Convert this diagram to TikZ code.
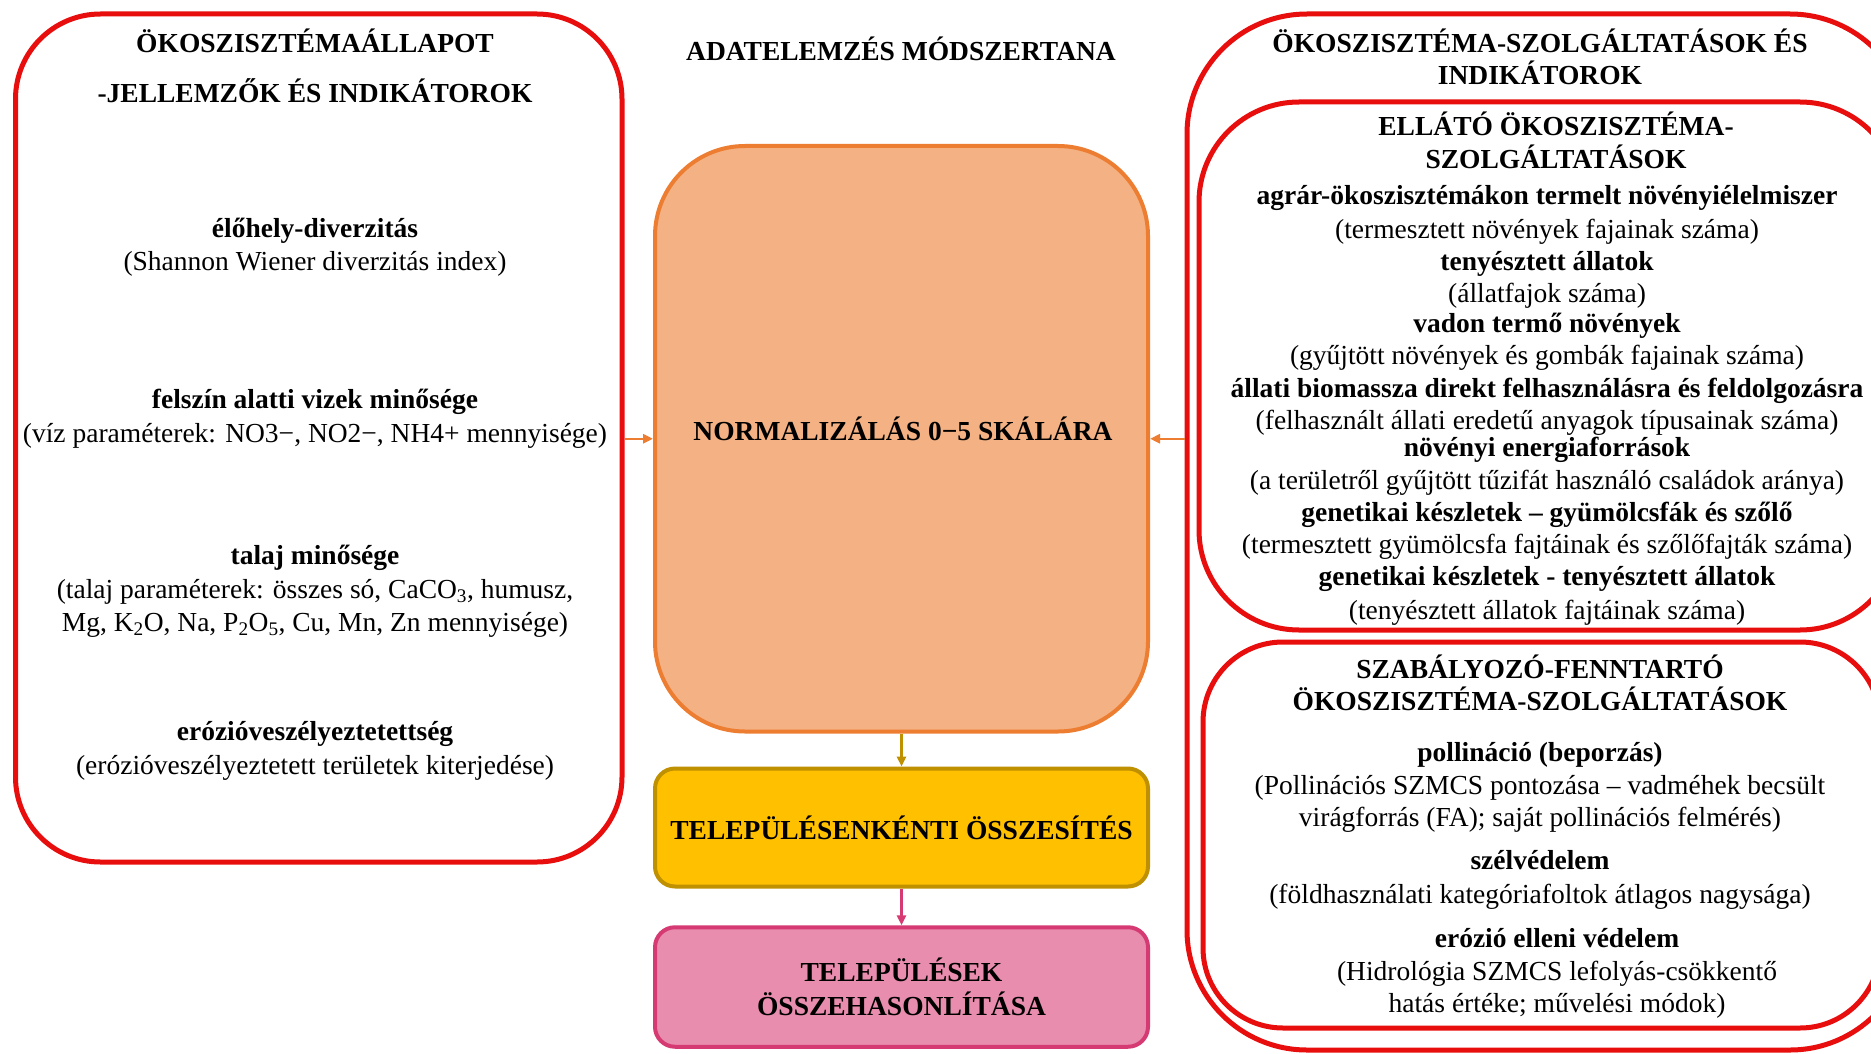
\documentclass[tikz,border=0pt]{standalone}
\usepackage{fontspec}
\setmainfont{Liberation Serif}
\usetikzlibrary{arrows.meta}
\definecolor{boxred}{RGB}{232,14,14}
\definecolor{orfill}{HTML}{F4B183}
\definecolor{ordraw}{HTML}{ED7D31}
\definecolor{yefill}{HTML}{FFC000}
\definecolor{yedraw}{HTML}{BF9000}
\definecolor{pifill}{HTML}{E88DAD}
\definecolor{pidraw}{HTML}{D63A72}
\begin{document}
\begin{tikzpicture}[x=1pt,y=1pt,
  redbox/.style={draw=boxred, line width=5pt, rounded corners=#1, inner sep=0pt},
  t/.style={font=\fontsize{27.5}{33}\selectfont, anchor=base, inner sep=0pt},
  tb/.style={t, font=\fontsize{27.5}{33}\selectfont\bfseries},
  arr/.style={-{Triangle[length=10pt,width=9pt]}, line width=2.5pt}]
\useasboundingbox (0,0) rectangle (1871,-1054);
\fill[white] (0,0) rectangle (1871,-1054);
\clip (0,0) rectangle (1871,-1054);

% left box
\node[redbox=85, minimum width=606.5pt, minimum height=848pt] (left) at (318.75,-438) {};
\node[tb] (l1) at (315,-53) {ÖKOSZISZTÉMAÁLLAPOT};
\node[tb] (l2) at (315,-103) {-JELLEMZŐK ÉS INDIKÁTOROK};
\node[tb] (l3) at (315,-237) {élőhely-diverzitás};
\node[t] (l4) at (315,-270) {(Shannon Wiener diverzitás index)};
\node[tb] (l5) at (315,-408) {felszín alatti vizek minősége};
\node[t] (l6) at (315,-442) {(víz paraméterek: NO3−, NO2−, NH4+ mennyisége)};
\node[tb] (l7) at (315,-564) {talaj minősége};
\node[t] (l8) at (315,-598) {(talaj paraméterek: összes só, CaCO\textsubscript{3}, humusz,};
\node[t] (l9) at (315,-631) {Mg, K\textsubscript{2}O, Na, P\textsubscript{2}O\textsubscript{5}, Cu, Mn, Zn mennyisége)};
\node[tb] (l10) at (315,-740) {erózióveszélyeztetettség};
\node[t] (l11) at (315,-774) {(erózióveszélyeztetett területek kiterjedése)};

% middle
\node[tb] (mtitle) at (901,-61) {ADATELEMZÉS MÓDSZERTANA};
\node[draw=ordraw, fill=orfill, line width=4pt, rounded corners=90pt, minimum width=493pt, minimum height=585.5pt, inner sep=0pt] (norm) at (901.5,-438.75) {};
\node[tb] (normt) at (903,-440) {NORMALIZÁLÁS 0−5 SKÁLÁRA};
\node[draw=yedraw, fill=yefill, line width=4pt, rounded corners=20pt, minimum width=493pt, minimum height=118pt, inner sep=0pt, font=\fontsize{27.5}{33}\selectfont\bfseries] (sum) at (901.5,-827.5) {TELEPÜLÉSENKÉNTI ÖSSZESÍTÉS};
\node[draw=pidraw, fill=pifill, line width=4pt, rounded corners=20pt, minimum width=493pt, minimum height=119.5pt, inner sep=0pt, align=center, font=\fontsize{27.5}{33.5}\selectfont\bfseries] (comp) at (901.5,-987) {TELEPÜLÉSEK\\ÖSSZEHASONLÍTÁSA};

% right boxes
\node[redbox=120, minimum width=723pt, minimum height=1036pt] (outer) at (1548.5,-532) {};
\node[redbox=100, minimum width=701pt, minimum height=528pt] (supply) at (1549.5,-366) {};
\node[redbox=80, minimum width=677pt, minimum height=386pt] (regul) at (1541.5,-835) {};

\node[tb] (r1) at (1540,-53) {ÖKOSZISZTÉMA-SZOLGÁLTATÁSOK ÉS};
\node[tb] (r2) at (1540,-85) {INDIKÁTOROK};

\node[tb] (s1) at (1556,-135.5) {ELLÁTÓ ÖKOSZISZTÉMA-};
\node[tb] (s2) at (1556,-168) {SZOLGÁLTATÁSOK};
\node[tb] (s3) at (1547,-204.7) {agrár-ökoszisztémákon termelt növényiélelmiszer};
\node[t] (s4) at (1547,-238) {(termesztett növények fajainak száma)};
\node[tb] (s5) at (1547,-270) {tenyésztett állatok};
\node[t] (s6) at (1547,-302.5) {(állatfajok száma)};
\node[tb] (s7) at (1547,-332) {vadon termő növények};
\node[t] (s8) at (1547,-364.6) {(gyűjtött növények és gombák fajainak száma)};
\node[tb] (s9) at (1547,-397) {állati biomassza direkt felhasználásra és feldolgozásra};
\node[t] (s10) at (1547,-429) {(felhasznált állati eredetű anyagok típusainak száma)};
\node[tb] (s11) at (1547,-456.5) {növényi energiaforrások};
\node[t] (s12) at (1547,-489) {(a területről gyűjtött tűzifát használó családok aránya)};
\node[tb] (s13) at (1547,-521) {genetikai készletek – gyümölcsfák és szőlő};
\node[t] (s14) at (1547,-553) {(termesztett gyümölcsfa fajtáinak és szőlőfajták száma)};
\node[tb] (s15) at (1547,-585) {genetikai készletek - tenyésztett állatok};
\node[t] (s16) at (1547,-619) {(tenyésztett állatok fajtáinak száma)};

\node[tb] (g1) at (1540,-678.5) {SZABÁLYOZÓ-FENNTARTÓ};
\node[tb] (g2) at (1540,-710.6) {ÖKOSZISZTÉMA-SZOLGÁLTATÁSOK};
\node[tb] (g3) at (1540,-761) {pollináció (beporzás)};
\node[t] (g4) at (1540,-794) {(Pollinációs SZMCS pontozása – vadméhek becsült};
\node[t] (g5) at (1540,-826.5) {virágforrás (FA); saját pollinációs felmérés)};
\node[tb] (g6) at (1540,-869) {szélvédelem};
\node[t] (g7) at (1540,-903) {(földhasználati kategóriafoltok átlagos nagysága)};
\node[tb] (g8) at (1557,-947) {erózió elleni védelem};
\node[t] (g9) at (1557,-980) {(Hidrológia SZMCS lefolyás-csökkentő};
\node[t] (g10) at (1557,-1012.5) {hatás értéke; művelési módok)};

% connectors
\draw[arr, ordraw] (left.east |- norm.west) -- (norm.west);
\draw[arr, ordraw] (norm.east -| outer.west) -- (norm.east);
\draw[arr, yedraw] (norm.south) -- (sum.north);
\draw[arr, pidraw] (sum.south) -- (comp.north);
\end{tikzpicture}
\end{document}
